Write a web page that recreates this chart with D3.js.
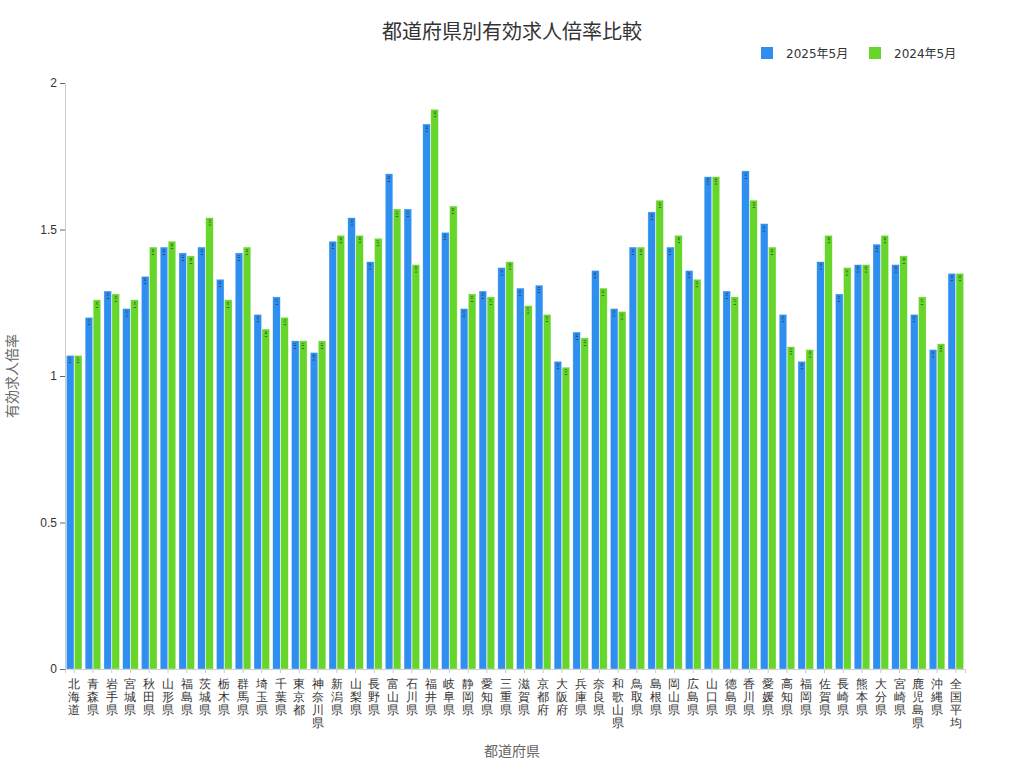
<!DOCTYPE html>
<html><head><meta charset="utf-8">
<script src="https://cdn.jsdelivr.net/npm/d3@7"></script>
<style>body{margin:0;background:#fff;font-family:"DejaVu Sans","Noto Sans CJK JP",sans-serif}</style>
</head><body>
<script>
const prefectures = ["北海道","青森県","岩手県","宮城県","秋田県","山形県","福島県","茨城県","栃木県","群馬県","埼玉県","千葉県","東京都","神奈川県","新潟県","山梨県","長野県","富山県","石川県","福井県","岐阜県","静岡県","愛知県","三重県","滋賀県","京都府","大阪府","兵庫県","奈良県","和歌山県","鳥取県","島根県","岡山県","広島県","山口県","徳島県","香川県","愛媛県","高知県","福岡県","佐賀県","長崎県","熊本県","大分県","宮崎県","鹿児島県","沖縄県","全国平均"];
const may2025 = [1.07,1.20,1.29,1.23,1.34,1.44,1.42,1.44,1.33,1.42,1.21,1.27,1.12,1.08,1.46,1.54,1.39,1.69,1.57,1.86,1.49,1.23,1.29,1.37,1.30,1.31,1.05,1.15,1.36,1.23,1.44,1.56,1.44,1.36,1.68,1.29,1.70,1.52,1.21,1.05,1.39,1.28,1.38,1.45,1.38,1.21,1.09,1.35];
const may2024 = [1.07,1.26,1.28,1.26,1.44,1.46,1.41,1.54,1.26,1.44,1.16,1.20,1.12,1.12,1.48,1.48,1.47,1.57,1.38,1.91,1.58,1.28,1.27,1.39,1.24,1.21,1.03,1.13,1.30,1.22,1.44,1.60,1.48,1.33,1.68,1.27,1.60,1.44,1.10,1.09,1.48,1.37,1.38,1.48,1.41,1.27,1.11,1.35];
const seriesNames = ["2025年5月","2024年5月"];
const colors = ["#2f8ff0","#66d62a"];
const yTicks = [0,0.5,1,1.5,2];

const W=1024,H=768,m={l:65,r:59,t:83,b:99};
const svg=d3.select("body").append("svg").attr("width",W).attr("height",H);
const x=d3.scaleBand().domain(prefectures).range([m.l,W-m.r]).paddingInner(0.12).paddingOuter(0.05);
const xs=d3.scaleBand().domain(seriesNames).range([0,x.bandwidth()]).padding(0.06);
const y=d3.scaleLinear().domain([0,2]).range([H-m.b,m.t]);

svg.append("text").attr("x",512).attr("y",39).attr("text-anchor","middle").attr("font-size",20).attr("fill","#333").text("都道府県別有効求人倍率比較");

const ya=svg.append("g").attr("transform",`translate(${m.l},0)`).call(d3.axisLeft(y).tickValues(yTicks).tickFormat(d=>d).tickSize(5));
ya.select(".domain").attr("stroke","#ccc");
ya.selectAll(".tick line").attr("stroke","#666");
ya.selectAll("text").attr("font-size",12).attr("fill","#333");
const xa=svg.append("g").attr("transform",`translate(0,${H-m.b})`).call(d3.axisBottom(x).tickSize(4));
xa.select(".domain").attr("stroke","#ccc");
xa.selectAll(".tick line").attr("stroke","#ccc");
xa.selectAll(".tick text").each(function(d){
  const t=d3.select(this).text("").attr("font-size",12).attr("fill","#333").attr("y",0).attr("dy",0).attr("text-anchor","middle");
  Array.from(d).forEach((c,j)=>t.append("tspan").attr("x",0).attr("y",19+j*13).text(c));
});

const data=[may2025,may2024];
const g=svg.append("g");
prefectures.forEach((p,i)=>{
  seriesNames.forEach((s,k)=>{
    const v=data[k][i];
    g.append("rect").attr("x",x(p)+xs(s)).attr("y",y(v)).attr("width",xs.bandwidth()).attr("height",y(0)-y(v))
      .attr("fill",colors[k]).attr("stroke","#fff").attr("stroke-width",0.5).attr("stroke-opacity",0.6);
    g.append("text").attr("transform",`translate(${x(p)+xs(s)+xs.bandwidth()/2},${y(v)+5}) rotate(-90)`)
      .attr("text-anchor","middle").attr("dy","0.35em").attr("font-size",3).attr("fill","#222").text(v.toFixed(2));
  });
});

svg.append("text").attr("x",512).attr("y",756).attr("text-anchor","middle").attr("font-size",14).attr("fill","#666").text("都道府県");
svg.append("text").attr("transform","translate(17,376) rotate(-90)").attr("text-anchor","middle").attr("font-size",14).attr("fill","#666").text("有効求人倍率");

const lg=svg.append("g");
seriesNames.forEach((s,k)=>{
  const lx=[761,869][k];
  lg.append("rect").attr("x",lx).attr("y",47).attr("width",12).attr("height",12).attr("fill",colors[k]);
  lg.append("text").attr("x",lx+25).attr("y",58).attr("font-size",12).attr("fill","#333").text(s);
});
</script>
</body></html>
